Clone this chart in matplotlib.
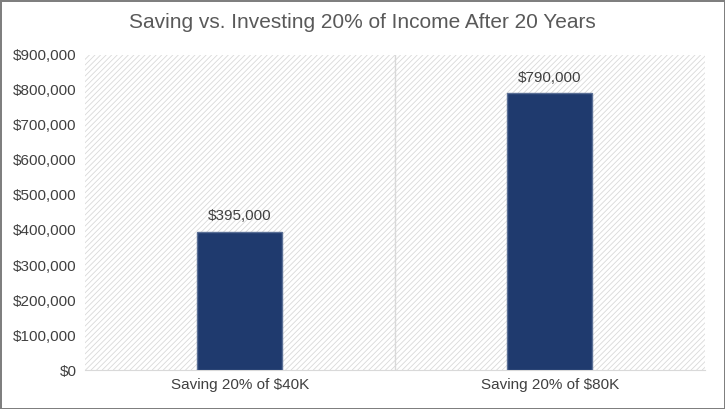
import matplotlib.pyplot as plt
from matplotlib.ticker import FuncFormatter

categories = ["Saving 20% of $40K", "Saving 20% of $80K"]
values = [395000, 790000]

plt.rcParams["hatch.color"] = "#d9d9d9"
plt.rcParams["hatch.linewidth"] = 0.6

fig = plt.figure(figsize=(7.25, 4.09), dpi=100)
fig.patch.set_edgecolor("#7f7f7f")
fig.patch.set_linewidth(2)
ax = fig.add_axes([0.117, 0.095, 0.855, 0.771])

ax.add_patch(plt.Rectangle((0, 0), 1, 1, transform=ax.transAxes, facecolor="white",
                           hatch="//////", edgecolor="#d9d9d9", linewidth=0, zorder=0))
x = range(len(categories))
bars = ax.bar(x, values, width=0.275, color="#1f3a6e", edgecolor="#5a6f96", linewidth=1, zorder=3)
for b, v in zip(bars, values):
    ax.text(b.get_x() + b.get_width() / 2, v + 25000, f"${v:,}", ha="center", va="bottom",
            fontsize=11, color="#404040", family="Liberation Sans")

ax.set_xlim(-0.5, 1.5)
ax.set_ylim(0, 900000)
ax.set_yticks(range(0, 900001, 100000))
ax.yaxis.set_major_formatter(FuncFormatter(lambda v, p: f"${int(v):,}"))
ax.set_xticks(list(x))
ax.set_xticklabels(categories)
ax.axvline(0.5, color="#d9d9d9", linewidth=1, zorder=1)
for s in ["top", "right", "left"]:
    ax.spines[s].set_visible(False)
ax.spines["bottom"].set_color("#d9d9d9")
ax.tick_params(length=0, labelsize=11, colors="#404040", pad=6)
for t in ax.get_xticklabels() + ax.get_yticklabels():
    t.set_family("Liberation Sans")

fig.text(0.5, 0.945, "Saving vs. Investing 20% of Income After 20 Years", ha="center", va="center",
         fontsize=15, color="#595959", family="Liberation Sans")

fig.savefig("out.png", dpi=100, edgecolor=fig.get_edgecolor())
